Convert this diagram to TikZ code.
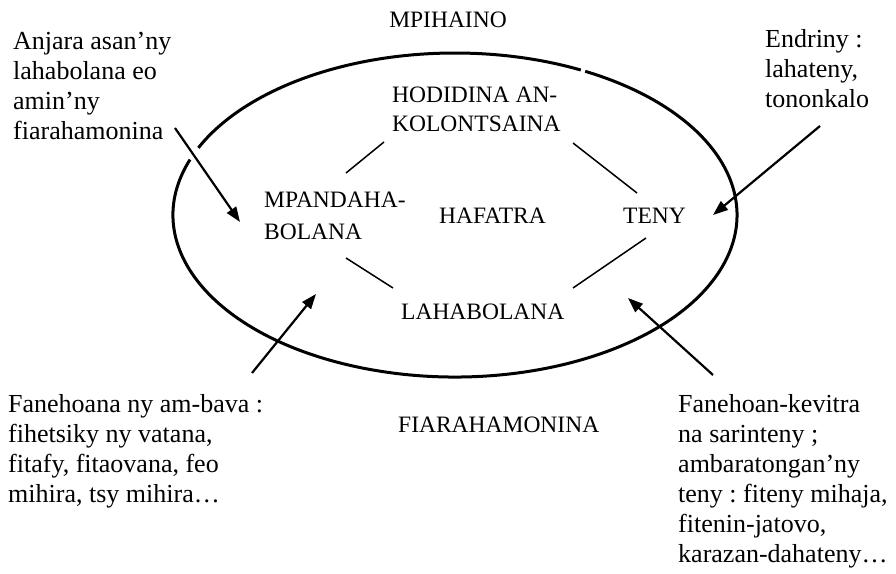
\documentclass[tikz,border=0pt]{standalone}
\usepackage{fontspec}
\setmainfont{Liberation Serif}
\usetikzlibrary{arrows.meta}
\frenchspacing
\begin{document}
\begin{tikzpicture}[x=1pt,y=1pt,
  note/.style={anchor=north west, inner sep=0pt, align=left, font=\fontsize{26}{30}\selectfont},
  lbl/.style={anchor=base west, inner sep=0pt, align=left, font=\fontsize{23.5}{29}\selectfont},
  link/.style={line width=1.5pt},
  pointer/.style={line width=2.2pt, -{Triangle[length=15pt,width=11pt]}},
  rim/.style={line width=3pt}]
\useasboundingbox (0,0) rectangle (896,573);
% ellipse (drawn as two arcs with small gaps)
\coordinate (E) at (455,358);
\draw[rim] ([shift={(63.5:282pt and 162pt)}]E) arc[start angle=63.5, end angle=155.5, x radius=282pt, y radius=162pt];
\draw[rim] ([shift={(160:282pt and 162pt)}]E) arc[start angle=160, end angle=422.5, x radius=282pt, y radius=162pt];
% labels
\node[lbl, anchor=base] (top) at (448,545) {MPIHAINO};
\node[lbl, anchor=north west] (hod) at (392,486) {HODIDINA AN-\\KOLONTSAINA};
\node[lbl, anchor=north west] (mpa) at (264,381) {MPANDAHA-\\[3pt]BOLANA};
\node[lbl] (haf) at (439,349) {HAFATRA};
\node[lbl] (teny) at (623,349) {TENY};
\node[lbl] (lah) at (401,253) {LAHABOLANA};
\node[lbl] (fia) at (398,140) {FIARAHAMONINA};
% notes
\node[note] (anj) at (13,541) {Anjara asan’ny\\lahabolana eo\\amin’ny\\fiarahamonina};
\node[note] (end) at (765,544) {Endriny :\\lahateny,\\tononkalo};
\node[note] (fan) at (8,179) {Fanehoana ny am-bava :\\fihetsiky ny vatana,\\fitafy, fitaovana, feo\\mihira, tsy mihira…};
\node[note] (fk) at (678,179) {Fanehoan-kevitra\\na sarinteny ;\\ambaratongan’ny\\teny : fiteny mihaja,\\fitenin-jatovo,\\karazan-dahateny…};
% link end points
\coordinate (ul1) at (384,431); \coordinate (ul2) at (346,400);
\coordinate (ur1) at (573,430); \coordinate (ur2) at (637,380);
\coordinate (ll1) at (346,315); \coordinate (ll2) at (393,285);
\coordinate (lr1) at (646,335); \coordinate (lr2) at (573,285);
\draw[link] (ul1) -- (ul2);
\draw[link] (ur1) -- (ur2);
\draw[link] (ll1) -- (ll2);
\draw[link] (lr1) -- (lr2);
% arrows
\coordinate (a1s) at (175,445); \coordinate (a1e) at (240,351);
\coordinate (a2s) at (820,447); \coordinate (a2e) at (713,358);
\coordinate (a3s) at (252,200); \coordinate (a3e) at (316,279);
\coordinate (a4s) at (713,198); \coordinate (a4e) at (628,275);
\draw[pointer] (a1s) -- (a1e);
\draw[pointer] (a2s) -- (a2e);
\draw[pointer] (a3s) -- (a3e);
\draw[pointer] (a4s) -- (a4e);
\end{tikzpicture}
\end{document}
